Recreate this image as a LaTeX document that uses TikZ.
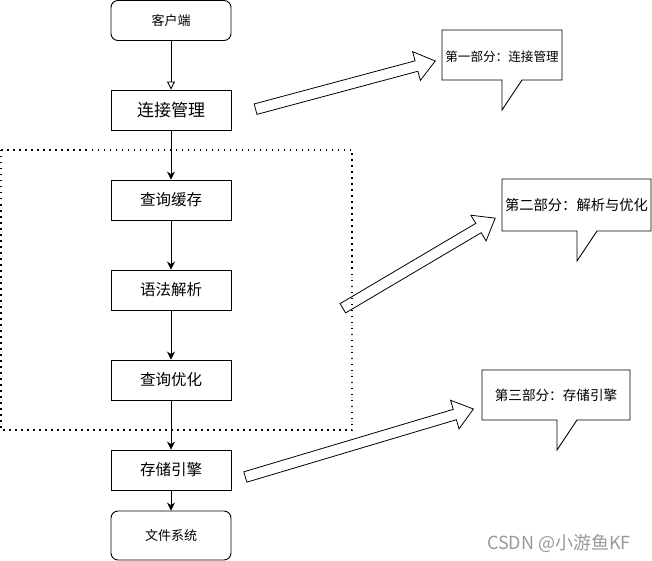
\documentclass[tikz,border=0pt]{standalone}
\usepackage{fontspec}
\setmainfont{Noto Sans CJK SC}
\usepackage{xcolor}
\usepackage{tikz}
\usetikzlibrary{arrows.meta,shapes.arrows}

\tikzset{
  box/.style={draw,line width=0.9pt,minimum width=120pt,minimum height=40pt,inner sep=0pt},
  roundbox/.style={box,rounded corners=7pt},
  bigarrow/.style={single arrow,draw,line width=0.8pt,inner sep=5pt,
    single arrow head extend=9.5pt,single arrow tip angle=75,anchor=center},
  flow/.style={line width=0.9pt,-{Stealth[length=8pt,width=8pt]}}
}

\begin{document}
\begin{tikzpicture}[x=1pt,y=-1pt]
            \useasboundingbox (0,0) rectangle (652,561);
            % Dotted frame
            \draw[line width=1.5pt,dash pattern=on 1.5pt off 4.5pt] (1,150) rectangle (352,430);
            % Boxes
            \node[roundbox,font=\fontsize{13}{15}\selectfont] (client) at (171,20.5) {客户端};
            \node[box,font=\fontsize{17}{20}\selectfont] (conn) at (171,110) {连接管理};
            \node[box,font=\fontsize{15.5}{18}\selectfont] (cache) at (171,200) {查询缓存};
            \node[box,font=\fontsize{15.5}{18}\selectfont] (parse) at (171,290) {语法解析};
            \node[box,font=\fontsize{15.5}{18}\selectfont] (optim) at (171,380) {查询优化};
            \node[box,font=\fontsize{15.5}{18}\selectfont] (engine) at (171,470) {存储引擎};
            \node[roundbox,minimum height=49pt,font=\fontsize{13}{15}\selectfont] (fs) at (171,535.5) {文件系统};
            % Flow
            \draw[line width=0.9pt,-{Triangle[open,length=8pt,width=8pt]}] (client) -- (conn);
            \draw[flow] (conn) -- (cache);
            \draw[flow] (cache) -- (parse);
            \draw[flow] (parse) -- (optim);
            \draw[flow] (optim) -- (engine);
            \draw[flow] (engine) -- (fs);
            % Block arrows
            \node[bigarrow,minimum height=186pt,rotate=15] (arrowA) at (342,86) {};
            \node[bigarrow,minimum height=177pt,rotate=30.6] (arrowB) at (416,265) {};
            \node[bigarrow,minimum height=238pt,rotate=16.6] (arrowC) at (356,444) {};
            % Callouts
            \draw[line width=0.9pt] (442,30) -- (562,30) -- (562,80) -- (522,80) -- (502,110) -- (502,80) -- (442,80) -- cycle;
            \node[font=\fontsize{12.6}{15}\selectfont] (noteA) at (502,57) {第一部分：连接管理};
            \draw[line width=0.9pt] (502,179) -- (651,179) -- (651,231) -- (597,231) -- (577,261) -- (577,231) -- (502,231) -- cycle;
            \node[font=\fontsize{14.3}{17}\selectfont] (noteB) at (576.5,205) {第二部分：解析与优化};
            \draw[line width=0.9pt] (482,370) -- (630,370) -- (630,420) -- (577,420) -- (557,450) -- (557,420) -- (482,420) -- cycle;
            \node[font=\fontsize{13.6}{16}\selectfont] (noteC) at (556,395) {第三部分：存储引擎};
            % Watermark
            \node[text=black!40,font=\fontsize{18}{21}\selectfont] (mark) at (559,543) {CSDN @小游鱼KF};
        \end{tikzpicture}
\end{document}
